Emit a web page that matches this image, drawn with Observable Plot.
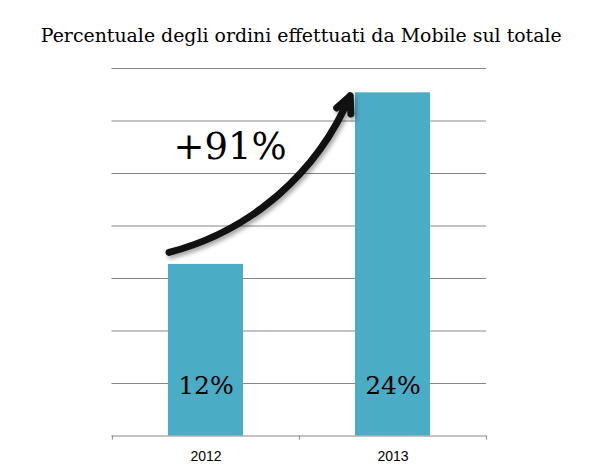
<!DOCTYPE html>
<html>
<head>
<meta charset="utf-8">
<script src="https://cdn.jsdelivr.net/npm/d3@7"></script>
<script src="https://cdn.jsdelivr.net/npm/@observablehq/plot@0.6"></script>
<style>
  body { margin: 0; background: #fff; }
</style>
</head>
<body>
<div id="chart"></div>
<script>
// Share of orders placed from mobile devices, by year
const title = "Percentuale degli ordini effettuati da Mobile sul totale";
const years = ["2012", "2013"];
const shares = [12, 24];
const growthLabel = "+91%";

// Value axis (hidden): upper bound and number of horizontal gridline bands
const yMax = 25.7;
const gridCount = 7;

const width = 606, height = 471;
const marginTop = 68, marginBottom = 35.5, marginLeft = 111.5, marginRight = 120;
const frameH = height - marginTop - marginBottom;
const step = (width - marginLeft - marginRight) / years.length;

const rows = years.map((year, i) => ({year, share: shares[i], label: `${shares[i]}%`}));
const gridValues = d3.range(1, gridCount + 1).map(i => i * yMax / gridCount);
const growth = [{from: years[0], to: years[1], v1: shares[0], v2: shares[1]}];

const gray = "#878787";
const serif = "'DejaVu Serif', 'Liberation Serif', serif";

const chart = Plot.plot({
  width, height, marginTop, marginBottom, marginLeft, marginRight,
  style: {background: "#fff", overflow: "visible"},
  x: {domain: years, paddingInner: 0.6, paddingOuter: 0.3, label: null},
  y: {domain: [0, yMax], axis: null},
  marks: [
    Plot.ruleY(gridValues, {stroke: gray, strokeWidth: 1}),
    Plot.barY(rows, {x: "year", y: "share", fill: "#4BACC6"}),
    Plot.ruleY([0], {stroke: gray, strokeWidth: 1}),
    // category separators on the baseline
    Plot.ruleX(years, {dx: -step / 2, insetTop: frameH, insetBottom: -4, stroke: gray}),
    Plot.ruleX(years.slice(-1), {dx: step / 2, insetTop: frameH, insetBottom: -4, stroke: gray}),
    Plot.axisX({tickSize: 0, tickPadding: 15, fontSize: 14, fontFamily: "'Liberation Sans', Arial, sans-serif", fill: "#000", label: null}),
    // value labels inside the bars
    Plot.text(rows, {x: "year", y: 0, text: "label", dy: -42, lineAnchor: "bottom",
      fontSize: 25, fontFamily: serif, fill: "#000"}),
    // growth arrow from the 2012 bar to the 2013 bar
    Plot.arrow(growth, {x1: "from", y1: "v1", x2: "to", y2: "v2", dx: -37, dy: -12,
      bend: -28, insetEnd: 16, strokeWidth: 7, headLength: 3.9, headAngle: 50, stroke: "#111"}),
    Plot.text([growthLabel], {x: () => years[0], y: () => shares[1], text: d => d,
      dx: 24, dy: 66, lineAnchor: "bottom", fontSize: 37, fontFamily: serif, fill: "#000"}),
    // title
    Plot.text([title], {frameAnchor: "top", dx: 2, dy: -27, lineAnchor: "bottom",
      fontSize: 18.9, fontFamily: serif, fill: "#000"})
  ]
});

const arrowGroup = chart.querySelector('g[aria-label="arrow"]');
if (arrowGroup) arrowGroup.style.filter = "drop-shadow(2px 3px 2px rgba(0,0,0,0.35))";

document.getElementById("chart").append(chart);
</script>
</body>
</html>
